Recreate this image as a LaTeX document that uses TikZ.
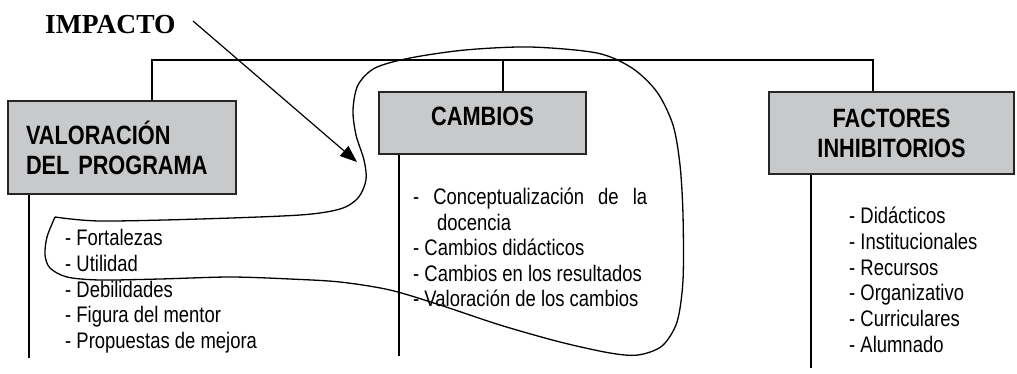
\documentclass[tikz,border=0pt]{standalone}
\usepackage{fontspec}
\setmainfont{Liberation Sans}[FakeStretch=0.82]
\newfontfamily\impfont{Liberation Serif}
\usetikzlibrary{arrows.meta}
\definecolor{boxgray}{RGB}{200,201,203}
\tikzset{
  box/.style={draw=black!85, line width=2pt, fill=boxgray, anchor=north west, font=\fontsize{26.5}{30}\selectfont\bfseries},
  item/.style={inner sep=0pt, anchor=base west, font=\fontsize{22.5}{25}\selectfont},
  wire/.style={line width=1.4pt}
}
\begin{document}
\begin{tikzpicture}[x=1pt, y=-1pt]
\useasboundingbox (0,0) rectangle (1017,373);

\node (imp) [inner sep=0pt, anchor=base west, font=\impfont\fontsize{27.5}{29}\selectfont\bfseries] at (45,33) {IMPACTO};

\node (val) [box, minimum width=228pt, minimum height=93pt, text width=192pt, inner xsep=18pt, align=left] at (7,100) {VALORACIÓN\\DEL PROGRAMA};
\node (cam) [box, minimum width=207pt, minimum height=62pt, text depth=13pt] at (378,91) {CAMBIOS};
\node (fac) [box, minimum width=245pt, minimum height=82pt, align=center] at (768,91) {FACTORES\\INHIBITORIOS};

\coordinate (t1) at (152,60);
\coordinate (t2) at (503,60);
\coordinate (t3) at (873,60);
\draw[wire] (t1 |- val.north) -- (t1) -- (t3) -- (t3 |- fac.north);
\draw[wire] (t2) -- (t2 |- cam.north);

\coordinate (b1) at (29,358);
\coordinate (b2) at (399,356);
\coordinate (b3) at (811,368);
\draw[wire] (b1 |- val.south) -- (b1);
\draw[wire] (b2 |- cam.south) -- (b2);
\draw[wire] (b3 |- fac.south) -- (b3);

\foreach \t [count=\i] in {Fortalezas, Utilidad, Debilidades, Figura del mentor, Propuestas de mejora}
  \node (v\i) [item] at (65, {245.5+25.8*(\i-1)}) {- \t};

\node (c1) [item] at (413,204.5) {\makebox[234pt][s]{- Conceptualización de la}};
\node (c2) [item] at (437,230) {docencia};
\foreach \t [count=\i] in {Cambios didácticos, Cambios en los resultados, Valoración de los cambios}
  \node (cc\i) [item] at (413, {255.5+25.5*(\i-1)}) {- \t};

\foreach \t [count=\i] in {Didácticos, Institucionales, Recursos, Organizativo, Curriculares, Alumnado}
  \node (f\i) [item] at (849, {223.5+25.8*(\i-1)}) {- \t};

\coordinate (a0) at (193,21);
\coordinate (a1) at (357,162);
\draw[line width=1.2pt, -{Triangle[length=17pt,width=13pt]}] (a0) -- (a1);

\draw[line width=1.3pt] plot[smooth] coordinates {(55,217) (100,221) (200,219) (300,215) (340,209) (358,198) (366,180) (364,160) (356,135) (353,110) (358,85) (375,68) (410,58) (465,50) (530,47) (597,53) (632,68) (657,92) (673,125) (680,165) (683,215) (683,280) (677,322) (662,346) (638,355) (610,353) (560,342) (500,325) (440,305) (390,290) (340,282) (290,279) (230,277) (160,279) (100,280) (67,277) (50,268) (45,255) (47,237) (55,217)};
\end{tikzpicture}
\end{document}
